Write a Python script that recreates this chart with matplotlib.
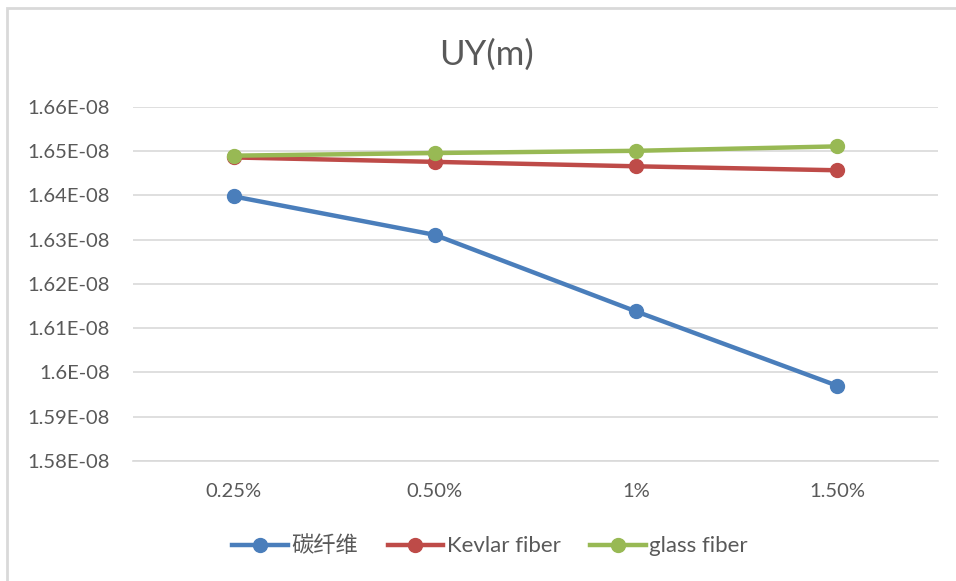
import matplotlib
matplotlib.use("Agg")
import matplotlib.pyplot as plt
from matplotlib.lines import Line2D
from matplotlib.patches import Rectangle

plt.rcParams['font.family'] = ['Lato', 'Noto Sans CJK SC', 'DejaVu Sans']

categories = ["0.25%", "0.50%", "1%", "1.50%"]
carbon = [1.6398e-08, 1.6311e-08, 1.6138e-08, 1.5970e-08]
kevlar = [1.6486e-08, 1.6476e-08, 1.6466e-08, 1.6457e-08]
glass = [1.6490e-08, 1.6496e-08, 1.6501e-08, 1.6511e-08]
series_names = ["碳纤维", "Kevlar fiber", "glass fiber"]
colors = ["#4a7ebb", "#be4b48", "#98b954"]
yticks = [1.58e-08, 1.59e-08, 1.60e-08, 1.61e-08, 1.62e-08, 1.63e-08,
          1.64e-08, 1.65e-08, 1.66e-08]
ytick_labels = ["1.58E-08", "1.59E-08", "1.6E-08", "1.61E-08", "1.62E-08",
                "1.63E-08", "1.64E-08", "1.65E-08", "1.66E-08"]

W, H = 956, 581
fig = plt.figure(figsize=(W / 100, H / 100), dpi=100)

# chart-area frame
fig.patches.append(Rectangle((7 / W, -0.1), 1.2, (H - 8) / H + 0.1,
                             transform=fig.transFigure, fill=False,
                             edgecolor="#d9d9d9", linewidth=2))

ax = fig.add_axes([133 / W, 1 - 461 / H, (938 - 133) / W, (461 - 107) / H])
x = range(len(categories))
for vals, name, c in zip([carbon, kevlar, glass], series_names, colors):
    ax.plot(x, vals, color=c, linewidth=3.2, marker="o", markersize=10,
            solid_capstyle="round", label=name, zorder=3)

ax.set_xlim(-0.5, len(categories) - 0.5)
ax.set_ylim(yticks[0], yticks[-1])
ax.set_yticks(yticks)
ax.set_yticklabels(ytick_labels)
ax.set_xticks(list(x))
ax.set_xticklabels(categories)
ax.grid(axis="y", color="#d9d9d9", linewidth=1.2)
ax.set_axisbelow(True)
for s in ["left", "right", "top"]:
    ax.spines[s].set_visible(False)
ax.spines["bottom"].set_color("#d9d9d9")
ax.spines["bottom"].set_linewidth(1.2)
ax.tick_params(axis="both", length=0, labelsize=14.5, colors="#595959")
ax.tick_params(axis="y", pad=16.5)
ax.tick_params(axis="x", pad=16)

fig.text(487 / W, 1 - 55 / H, "UY(m)", ha="center", va="center",
         fontsize=25, color="#595959")

handles = [Line2D([], [], color=c, linewidth=3.2, marker="o", markersize=10)
           for c in colors]
fig.legend(handles, series_names, loc="center", bbox_to_anchor=(490 / W, 1 - 546 / H),
           ncol=3, frameon=False, fontsize=16, labelcolor="#595959",
           handlelength=2.5, handletextpad=0.15, columnspacing=1.35)

fig.savefig("out.png", dpi=100)
